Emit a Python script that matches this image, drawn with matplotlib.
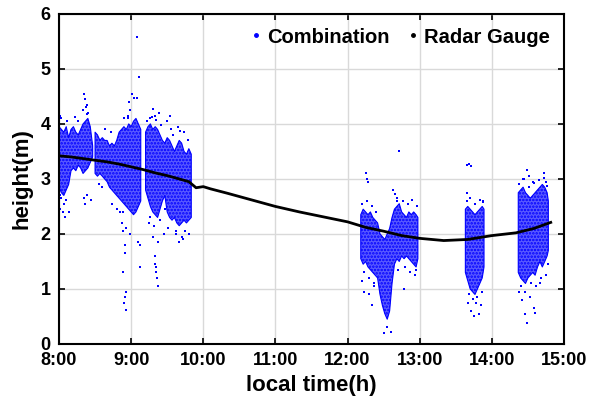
import numpy as np
import matplotlib.pyplot as plt

# ------------------------------------------------------------
# Daten (Zeit in Minuten nach 8:00, Höhe in m)
# ------------------------------------------------------------
# Radar Gauge
radar_min = [0, 10, 20, 30, 40, 50, 60, 70, 80, 90, 100, 108, 114, 120, 126,
             140, 160, 180, 200, 220, 240, 255, 270, 285, 300, 320, 340,
             360, 380, 395, 409]
radar_h = [3.42, 3.40, 3.37, 3.34, 3.31, 3.27, 3.22, 3.17, 3.11, 3.06, 3.00,
           2.95, 2.84, 2.86, 2.82, 2.74, 2.62, 2.50, 2.40, 2.31, 2.22, 2.12,
           2.05, 1.97, 1.92, 1.88, 1.90, 1.97, 2.02, 2.10, 2.21]

# Combination: dichte Bänder (untere / obere Grenze), NaN = Lücke
band_min = [0, 2, 4, 6, 8, 10, 12, 14, 16, 18, 20, 22, 24, 26, 28, 29,
            30, 32, 34, 36, 38, 40, 42, 44, 46, 48, 50, 52, 54, 56, 58, 60,
            62, 64, 66, 68, 69, 70, 72, 74, 76, 78, 80, 82, 84, 86, 88, 90,
            92, 94, 96, 98, 100, 102, 104, 106, 108, 110,
            111, 251, 253, 255, 257, 259, 261, 263, 265, 267, 269, 271, 273,
            275, 277, 279, 281, 283, 285, 287, 289, 291, 293, 295, 297, 298.5,
            299, 338, 340, 342, 344, 346, 348, 350, 352, 353.5,
            354, 382, 384, 386, 388, 390, 392, 394, 396, 398, 400, 402, 404,
            406, 407]
band_lo = [2.85, 2.75, 2.70, 2.80, 2.90, 3.15, 3.20, 3.15, 3.25, 3.20, 3.10,
           3.15, 3.20, 3.30, 3.40, np.nan,
           3.10, 3.05, 3.10, 3.05, 3.00, 2.95, 2.85, 2.80, 2.75, 2.70, 2.65,
           2.60, 2.55, 2.50, 2.45, 2.40, 2.35, 2.40, 2.50, 2.60, np.nan, np.nan,
           2.80, 2.65, 2.50, 2.40, 2.35, 2.30, 2.45, 2.60, 2.70, 2.40, 2.30,
           2.25, 2.30, 2.20, 2.15, 2.20, 2.25, 2.20, 2.25, 2.30,
           np.nan, 1.55, 1.45, 1.50, 1.40, 1.35, 1.30, 1.25, 1.20, 0.90, 0.70,
           0.55, 0.45, 0.60, 1.10, 1.45, 1.55, 1.50, 1.60, 1.55, 1.60, 1.55,
           1.50, 1.45, 1.40, 1.55,
           np.nan, 1.30, 1.15, 1.00, 0.95, 0.90, 1.00, 1.10, 1.20, 1.40,
           np.nan, 1.30, 1.20, 1.15, 1.10, 1.20, 1.25, 1.30, 1.25, 1.40, 1.50,
           1.40, 1.50, 1.60, 1.70]
band_hi = [3.95, 3.90, 3.85, 3.95, 3.75, 3.90, 3.95, 3.85, 3.80, 3.90, 4.00,
           4.05, 4.10, 3.95, 3.60, np.nan,
           3.85, 3.80, 3.70, 3.75, 3.70, 3.70, 3.60, 3.65, 3.60, 3.70, 3.85,
           3.90, 3.95, 3.90, 4.00, 3.95, 4.05, 4.10, 4.00, 3.90, np.nan, np.nan,
           3.85, 3.95, 4.00, 3.90, 3.95, 3.90, 3.80, 3.70, 3.65, 3.75, 3.70,
           3.60, 3.50, 3.60, 3.70, 3.65, 3.50, 3.45, 3.55, 3.45,
           np.nan, 2.35, 2.45, 2.40, 2.35, 2.40, 2.30, 2.25, 2.20, 2.00, 1.95,
           1.90, 2.00, 2.10, 2.30, 2.45, 2.50, 2.55, 2.40, 2.35, 2.30, 2.40,
           2.35, 2.40, 2.35, 2.30,
           np.nan, 2.45, 2.50, 2.45, 2.40, 2.35, 2.40, 2.45, 2.50, 2.45,
           np.nan, 2.75, 2.80, 2.85, 2.75, 2.70, 2.65, 2.70, 2.75, 2.80, 2.85,
           2.90, 2.85, 2.75, 2.60]

# Combination: einzelne Ausreißer
out_min = [1, 0.5, 3, 5, 8, 2, 21, 22, 23, 20, 24, 22.5, 20.5, 21.5, 23, 27,
           52, 53, 54.5, 55, 53.5, 56, 55, 54, 55.5, 53, 56,
           57, 59, 61, 62, 58, 64.5, 66.7, 65, 59, 66, 67, 67.5,
           78, 80, 76, 83, 75, 78, 79.5, 80, 80.5, 81.5, 82, 81, 82, 87,
           92, 90, 100, 103, 97, 105, 104, 99,
           255, 256, 257, 283, 278, 279.5, 281, 252, 254, 258, 260, 262,
           270, 276, 273, 287, 296, 297,
           339, 339.5, 341, 343, 353, 340, 343, 345, 347, 349, 351,
           386, 389, 391, 394, 403, 405, 383, 385, 388, 389, 392, 395, 396,
           400, 407]
out_h = [4.15, 2.45, 2.40, 2.30, 2.40, 2.65, 4.55, 4.45, 4.35, 4.25, 4.20,
         4.30, 2.65, 2.55, 2.71, 2.62,
         2.20, 2.05, 1.80, 1.65, 1.30, 0.95, 0.85, 0.75, 0.62, 2.40, 2.10,
         4.10, 4.25, 4.55, 4.48, 4.40, 4.48, 4.86, 5.58, 2.00, 1.85, 1.80, 1.40,
         4.27, 4.15, 4.10, 4.20, 2.20, 1.95, 1.60, 1.45, 1.30, 1.20, 1.05,
         1.40, 1.85, 2.00,
         4.15, 4.05, 1.85, 1.90, 2.00, 2.05, 3.85, 3.95,
         3.10, 3.00, 2.95, 3.50, 2.80, 2.72, 2.60, 1.15, 0.95, 0.90, 0.70,
         1.05, 0.20, 0.22, 0.30, 1.00, 1.25, 1.35,
         2.75, 3.25, 3.27, 3.23, 2.60, 0.75, 0.60, 0.50, 0.75, 0.55, 0.70,
         3.00, 3.17, 3.05, 2.95, 3.10, 2.95, 0.95, 0.80, 0.55, 0.38, 0.85,
         0.65, 0.56, 1.10, 1.45]

# Combination: lockere Punkte am Rand der Bänder
rand_min = [2, 7, 13, 16, 23, 38, 43, 54, 57, 1, 4, 6, 33, 36, 44, 48, 51,
            73, 77, 81, 85, 76, 79, 84, 88, 93, 95, 101, 107, 91, 97, 102, 108,
            252, 256, 260, 264, 254, 258, 262, 281, 286, 290, 294, 298, 282,
            288, 292, 296,
            339, 342, 346, 350, 353, 341, 344, 348, 352,
            383, 387, 391, 395, 399, 403, 406, 384, 388, 393, 397, 401, 405]
rand_h = [4.10, 4.05, 4.12, 4.05, 4.18, 3.90, 3.85, 4.10, 4.15, 2.70, 2.55,
          2.62, 2.90, 2.85, 2.55, 2.45, 2.40,
          4.05, 4.12, 4.08, 3.98, 2.30, 2.15, 2.25, 2.45, 3.90, 3.80, 3.88,
          3.70, 2.10, 2.05, 1.95, 2.00,
          2.55, 2.60, 2.50, 2.40, 1.30, 1.20, 1.10, 2.65, 2.60, 2.55, 2.62,
          2.50, 1.35, 1.40, 1.30, 1.25,
          2.60, 2.65, 2.55, 2.62, 2.58, 0.90, 0.82, 0.85, 0.95,
          2.90, 3.00, 2.85, 2.92, 2.98, 3.02, 2.88, 1.05, 0.95, 1.10, 1.05,
          1.20, 1.25]

x_ticks = [0, 60, 120, 180, 240, 300, 360, 420]
x_labels = ["8:00", "9:00", "10:00", "11:00", "12:00", "13:00", "14:00", "15:00"]

# ------------------------------------------------------------
# Plot
# ------------------------------------------------------------
plt.rcParams['font.family'] = ['Liberation Sans', 'DejaVu Sans']
plt.rcParams['font.weight'] = 'bold'
plt.rcParams['hatch.linewidth'] = 1.2

fig = plt.figure(figsize=(5.99, 4.09), dpi=100)
ax = fig.add_axes([0.0985, 0.159, 0.843, 0.807])

# Punktwolke: helle Fläche + Punkt-Schraffur
ax.fill_between(band_min, band_lo, band_hi, facecolor='#5a5aff',
                edgecolor='#0000ff', hatch='.....', linewidth=0.8)
ax.scatter(rand_min, rand_h, s=2.5, color='#0000ff', marker='s', linewidths=0)
ax.scatter(out_min, out_h, s=2.5, color='#0000ff', marker='s', linewidths=0)
ax.plot(radar_min, radar_h, color='black', lw=2)

# Legende (Punkt-Marker wie im Original)
ax.plot([], [], ls='none', marker='.', ms=5, color='#0000ff', label='Combination')
ax.plot([], [], ls='none', marker='.', ms=5, color='black', label='Radar Gauge')
ax.legend(loc='center right', bbox_to_anchor=(0.972, 0.930), ncol=2,
          frameon=False, handlelength=0.5, handletextpad=0.3,
          columnspacing=0.9, borderpad=0, borderaxespad=0,
          prop={'weight': 'bold', 'size': 14.5})

ax.set_xlim(0, 420)
ax.set_ylim(0, 6)
ax.set_xticks(x_ticks)
ax.set_xticklabels(x_labels)
ax.set_yticks(range(7))
ax.grid(True, color='#d9d9d9', lw=1)
ax.set_axisbelow(True)
ax.tick_params(direction='in', top=True, right=True, labelsize=13, length=4,
               width=1.2)
ax.tick_params(axis='x', pad=6)
ax.tick_params(axis='y', pad=6)
for s in ax.spines.values():
    s.set_linewidth(1.5)
ax.set_xlabel('local time(h)', fontsize=16, fontweight='bold', labelpad=4)
ax.set_ylabel('height(m)', fontsize=16, fontweight='bold', labelpad=6)

fig.savefig('out.png', dpi=100)
